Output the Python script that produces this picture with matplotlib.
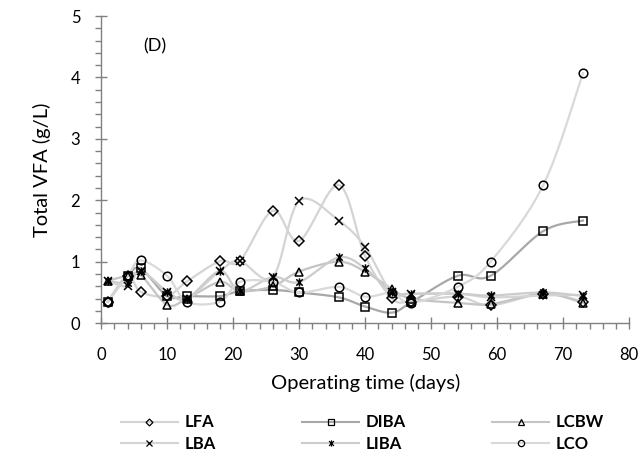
import numpy as np
import matplotlib
matplotlib.use("Agg")
import matplotlib.pyplot as plt
from matplotlib.path import Path
from matplotlib.lines import Line2D
from matplotlib.ticker import MultipleLocator

plt.rcParams['font.family'] = ['Lato', 'DejaVu Sans']

days = [1, 4, 6, 10, 13, 18, 21, 26, 30, 36, 40, 44, 47, 54, 59, 67, 73]
LFA  = [0.35, 0.77, 0.51, 0.44, 0.68, 1.01, 1.01, 1.83, 1.34, 2.25, 1.09, 0.41, 0.35, 0.43, 0.29, 0.48, 0.35]
DIBA = [0.35, 0.76, 0.89, 0.44, 0.44, 0.44, 0.52, 0.54, 0.50, 0.42, 0.27, 0.17, 0.34, 0.77, 0.77, 1.50, 1.67]
LCBW = [0.69, 0.77, 0.78, 0.30, 0.40, 0.67, 0.52, 0.60, 0.84, 1.00, 0.84, 0.56, 0.40, 0.33, 0.31, 0.48, 0.33]
LBA  = [0.69, 0.60, 0.85, 0.51, 0.40, 0.85, 1.01, 0.75, 1.99, 1.67, 1.24, 0.50, 0.48, 0.48, 0.42, 0.45, 0.46]
LIBA = [0.69, 0.66, 0.85, 0.51, 0.40, 0.85, 0.52, 0.75, 0.67, 1.07, 0.89, 0.50, 0.48, 0.48, 0.45, 0.50, 0.44]
LCO  = [0.35, 0.77, 1.02, 0.77, 0.35, 0.35, 0.67, 0.67, 0.50, 0.59, 0.43, 0.49, 0.33, 0.59, 1.00, 2.25, 4.07]

names = ['LFA', 'DIBA', 'LCBW', 'LBA', 'LIBA', 'LCO']
series = [LFA, DIBA, LCBW, LBA, LIBA, LCO]

star = Path([(-1, -1), (1, 1), (-1, 1), (1, -1), (0, -1.3), (0, 1.3)],
            [Path.MOVETO, Path.LINETO, Path.MOVETO, Path.LINETO, Path.MOVETO, Path.LINETO])
markers = ['D', 's', '^', 'x', star, 'o']
msizes = [4.8, 6.0, 6.0, 5.5, 6.0, 6.2]
lcolors = ['#d4d4d4', '#a8a8a8', '#c4c4c4', '#d4d4d4', '#cccccc', '#d9d9d9']


def smooth(x, y, n=20):
    # Catmull-Rom style smoothed polyline for drawing (Excel "smoothed line" look)
    x = np.asarray(x, float); y = np.asarray(y, float)
    sx, sy = 80.0, 5.0
    P = np.column_stack([x / sx, y / sy])
    P = np.vstack([P[0], P, P[-1]])
    out = []
    for i in range(1, len(P) - 2):
        p0, p1, p2, p3 = P[i - 1], P[i], P[i + 1], P[i + 2]
        t = np.linspace(0, 1, n, endpoint=False)[:, None]
        seg = 0.5 * ((2 * p1) + (-p0 + p2) * t + (2 * p0 - 5 * p1 + 4 * p2 - p3) * t ** 2
                     + (-p0 + 3 * p1 - 3 * p2 + p3) * t ** 3)
        out.append(seg)
    out.append(P[-2][None, :])
    out = np.vstack(out)
    return out[:, 0] * sx, out[:, 1] * sy


fig = plt.figure(figsize=(6.44, 4.59), dpi=100)
ax = fig.add_axes([0.157, 0.296, 0.820, 0.669])

for name, vals, m, ms, lc in zip(names, series, markers, msizes, lcolors):
    xs, ys = smooth(days, vals)
    ax.plot(xs, ys, color=lc, lw=1.6, zorder=2)
    ax.plot(days, vals, linestyle='none', marker=m, markersize=ms,
            markerfacecolor='none', markeredgecolor='black', markeredgewidth=1.1, zorder=3)

ax.set_xlim(0, 80)
ax.set_ylim(0, 5)
ax.xaxis.set_major_locator(MultipleLocator(10))
ax.xaxis.set_minor_locator(MultipleLocator(2))
ax.yaxis.set_major_locator(MultipleLocator(1))
ax.yaxis.set_minor_locator(MultipleLocator(0.2))
for s in ['top', 'right']:
    ax.spines[s].set_visible(False)
for s in ['left', 'bottom']:
    ax.spines[s].set_color('#808080')
    ax.spines[s].set_linewidth(1.0)
ax.tick_params(which='major', direction='inout', length=8, width=1.0, color='#808080',
               labelsize=12, labelcolor='black')
ax.tick_params(axis='x', which='major', pad=13)
ax.tick_params(axis='y', which='major', pad=11)
ax.tick_params(which='minor', direction='out', length=4, width=1.0, color='#808080')

ax.set_xlabel('Operating time (days)', fontsize=14.5)
ax.set_ylabel('Total VFA (g/L)', fontsize=14.5)
ax.xaxis.set_label_coords(0.5, -0.165)
ax.yaxis.set_label_coords(-0.094, 0.5)
ax.text(8.2, 4.5, '(D)', fontsize=13, ha='center', va='center')

handles = []
order = [0, 3, 1, 4, 2, 5]
for i in order:
    handles.append(Line2D([], [], color=lcolors[i], lw=1.5, marker=markers[i],
                          markersize=4.5 if i != 0 else 3.5, markerfacecolor='none',
                          markeredgecolor='black', markeredgewidth=0.9, label=names[i]))
leg = fig.legend(handles=handles, loc='upper left', bbox_to_anchor=(0.188, 0.097),
                 ncol=3, frameon=False, handlelength=3.4, columnspacing=5.2, handletextpad=0.4,
                 labelspacing=0.35, borderpad=0, borderaxespad=0,
                 prop={'weight': 'bold', 'size': 12})

fig.savefig('out.png', dpi=100)
